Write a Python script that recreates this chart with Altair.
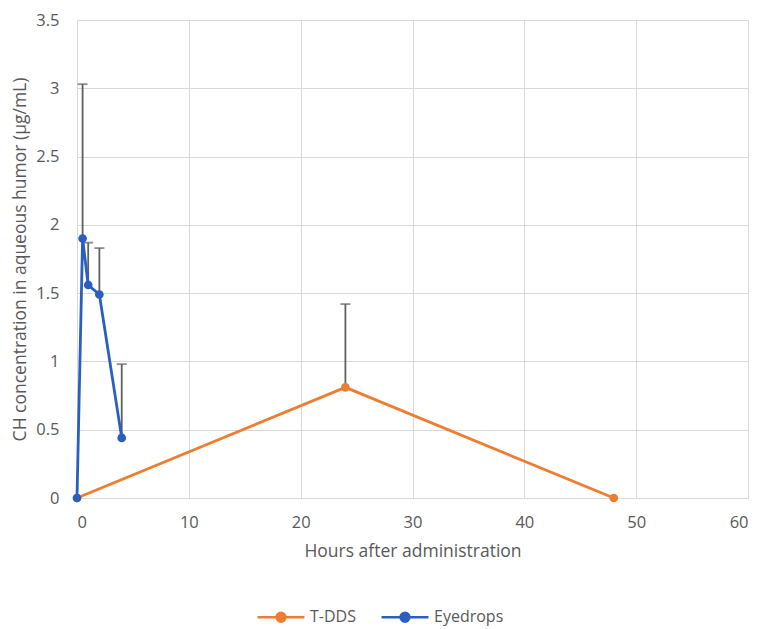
import altair as alt
import pandas as pd

# data
series_names = ["T-DDS", "Eyedrops"]
tdds_hours = [0, 24, 48]
tdds_conc = [0.0, 0.81, 0.0]
tdds_upper = [None, 1.42, None]
eye_hours = [0, 0.5, 1, 2, 4]
eye_conc = [0.0, 1.90, 1.56, 1.49, 0.44]
eye_upper = [None, 3.03, 1.87, 1.83, 0.98]
colors = ["#ED7D31", "#2A5FC0"]

rows = []
for h, c, u in zip(tdds_hours, tdds_conc, tdds_upper):
    rows.append({"hours": h, "conc": c, "upper": u, "series": "T-DDS"})
for h, c, u in zip(eye_hours, eye_conc, eye_upper):
    rows.append({"hours": h, "conc": c, "upper": u, "series": "Eyedrops"})
df = pd.DataFrame(rows)
err = df.dropna(subset=["upper"])

font = "Open Sans"
xscale = alt.Scale(domain=[0, 60], nice=False)
yscale = alt.Scale(domain=[0, 3.5], nice=False)

x = alt.X("hours:Q", scale=xscale, title="Hours after administration",
          axis=alt.Axis(values=[0, 10, 20, 30, 40, 50, 60]))
y = alt.Y("conc:Q", scale=yscale, title="CH concentration in aqueous humor (µg/mL)",
          axis=alt.Axis(values=[0, 0.5, 1, 1.5, 2, 2.5, 3, 3.5],
                        labelExpr="datum.value == 0 ? '0' : format(datum.value, '')"))

color = alt.Color("series:N", scale=alt.Scale(domain=series_names, range=colors),
                  sort=series_names,
                  legend=alt.Legend(title=None, orient="none", direction="horizontal",
                                    legendX=179, legendY=572,
                                    symbolType="M -1 0 L 1 0 M -0.19 0 A 0.19 0.19 0 1 0 0.19 0 A 0.19 0.19 0 1 0 -0.19 0",
                                    symbolSize=2200, symbolStrokeWidth=2.5,
                                    labelFont=font, labelFontSize=16, labelColor="#595959",
                                    labelOffset=4, columnPadding=20))

err_rule = alt.Chart(err).mark_rule(color="#606060", strokeWidth=1.8).encode(
    x=alt.X("hours:Q", scale=xscale),
    y=alt.Y("conc:Q", scale=yscale),
    y2="upper:Q",
)
err_cap = alt.Chart(err).mark_tick(color="#606060", thickness=1.8, size=10, orient="horizontal").encode(
    x=alt.X("hours:Q", scale=xscale),
    y=alt.Y("upper:Q", scale=yscale),
)

lines = alt.Chart(df).mark_line(strokeWidth=2.8).encode(
    x=x, y=y, color=color, order="hours:Q", detail="series:N"
)
points = alt.Chart(df).mark_point(filled=True, size=75, opacity=1).encode(
    x=x, y=y, color=alt.Color("series:N", scale=alt.Scale(domain=series_names, range=colors), legend=None)
)

chart = alt.layer(err_rule, err_cap, lines, points).properties(
    width=671, height=478,
    autosize=alt.AutoSizeParams(type="none"),
    padding={"left": 69, "top": 12, "right": 8, "bottom": 131},
).configure_view(stroke=None).configure_axis(
    gridColor="#D9D9D9", gridWidth=1, domain=False, ticks=False,
    labelFont=font, labelFontSize=16.5, labelColor="#595959",
    titleFont=font, titleFontSize=17.5, titleColor="#595959", titleFontWeight="normal",
).configure_axisX(labelPadding=16, titlePadding=12, domain=True, domainColor="#D9D9D9"
).configure_axisY(labelPadding=18, titlePadding=6)

chart.save("out.html", embed_options={"renderer": "svg", "actions": False})
